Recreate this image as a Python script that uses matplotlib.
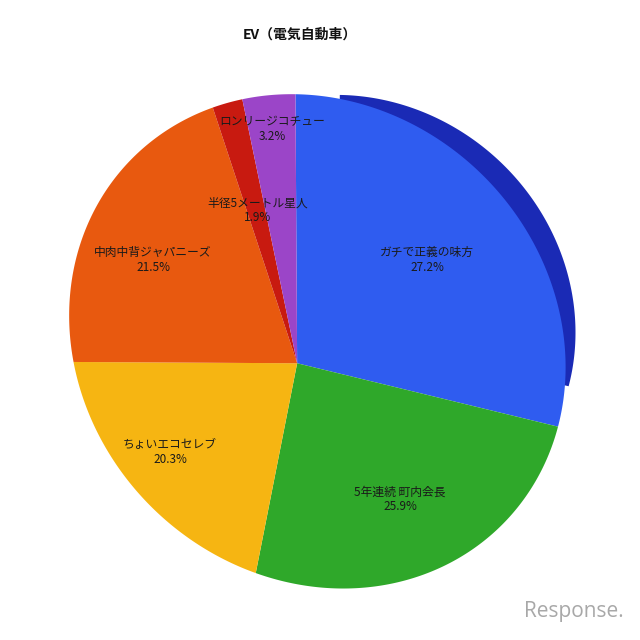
import numpy as np
import matplotlib
matplotlib.use("Agg")
import matplotlib.pyplot as plt
import matplotlib.transforms as mtransforms
from matplotlib.path import Path
from matplotlib.patches import Wedge

plt.rcParams['font.family'] = ['Noto Sans CJK JP', 'DejaVu Sans']

# data
title = "EV（電気自動車）"
names = ["ガチで正義の味方", "5年連続 町内会長", "ちょいエコセレブ",
         "中肉中背ジャパニーズ", "半径5メートル星人", "ロンリージコチュー"]
shares = [27.2, 25.9, 20.3, 21.5, 1.9, 3.2]
colors = ["#2f5cf0", "#2fa82a", "#f6b512", "#e8590f", "#c81a10", "#9b45c8"]
side_color = "#1a2ab5"

# layout (pixels, y down): where the pie centre and slice borders land
centre_px = (295, 363)
border_px = [(296, 93), (558, 427), (257, 573), (73, 362), (214, 108), (242, 100)]
label_px = [(427, 260), (400, 499), (170, 452), (153, 260), (258, 210), (272, 129)]


def fit_homography(src, dst):
    src = np.asarray(src, float)
    dst = (np.asarray(dst, float) - 320.0) / 320.0
    rows = []
    for (x, y), (u, v) in zip(src, dst):
        rows.append([x, y, 1, 0, 0, 0, -u * x, -u * y, -u])
        rows.append([0, 0, 0, x, y, 1, -v * x, -v * y, -v])
    _, _, vt = np.linalg.svd(np.array(rows))
    H = vt[-1].reshape(3, 3)
    T = np.array([[320.0, 0, 320.0], [0, 320.0, 320.0], [0, 0, 1]])
    return T @ H


class Perspective(mtransforms.Transform):
    input_dims = output_dims = 2
    is_separable = False
    has_inverse = False

    def __init__(self, H):
        super().__init__()
        self.H = H

    def transform_non_affine(self, xy):
        xy = np.asarray(xy, float)
        p = np.column_stack([xy, np.ones(len(xy))]) @ self.H.T
        return p[:, :2] / p[:, 2:]

    def transform_path_non_affine(self, path):
        # sample every segment densely, the warp bends straight lines of bezier hulls
        t = np.linspace(0, 1, 40)
        verts = np.concatenate([seg(t) for seg, _ in path.iter_bezier()])
        return Path(self.transform_non_affine(verts), closed=True)


# slice borders on the unit circle (clockwise from 12 o'clock)
cum = np.concatenate([[0], np.cumsum(shares)[:-1]]) / np.sum(shares)
angles = np.deg2rad(90 - 360 * cum)
src = [(0, 0)] + [(np.cos(a), np.sin(a)) for a in angles]
dst = [centre_px] + border_px
persp = Perspective(fit_homography(src, dst))

fig = plt.figure(figsize=(6.4, 6.4), dpi=100)
ax = fig.add_axes([0, 0, 1, 1])

wedges, _ = ax.pie(shares, colors=colors, startangle=90, counterclock=False,
                   radius=1, wedgeprops=dict(linewidth=0))

# darker side face behind the first slice
w0 = wedges[0]
a1, a2 = np.deg2rad(w0.theta1), np.deg2rad(w0.theta2)
A = np.array([[np.cos(a1), np.sin(a1)], [np.cos(a2), np.sin(a2)]])
px, py = np.linalg.solve(A, [1, 1])
s = 0.86
side_tf = mtransforms.Affine2D().translate(-px, -py).scale(s).translate(px, py)
side = Wedge((0, 0), 1, w0.theta1, w0.theta2, facecolor=side_color, linewidth=0, zorder=0.5)
ax.add_patch(side)
side.set_transform(side_tf + persp + ax.transData)

for w in wedges:
    w.set_transform(persp + ax.transData)
    w.set_zorder(1)

ax.set_aspect('auto')
ax.set_xlim(0, 640)
ax.set_ylim(640, 0)
ax.axis('off')

for name, val, (x, y) in zip(names, shares, label_px):
    ax.text(x, y, f"{name}\n{val}%", ha='center', va='center', fontsize=8.5,
            color='#1a1a1a', linespacing=1.15, zorder=3)

ax.text(300, 35, title, ha='center', va='center', fontsize=10, fontweight='bold', color='#111111')
ax.text(624, 612, "Response.", ha='right', va='center', fontsize=15, color='#a8a8a8',
        family=['Open Sans', 'DejaVu Sans'])

fig.savefig("out.png", dpi=100, facecolor='white')
